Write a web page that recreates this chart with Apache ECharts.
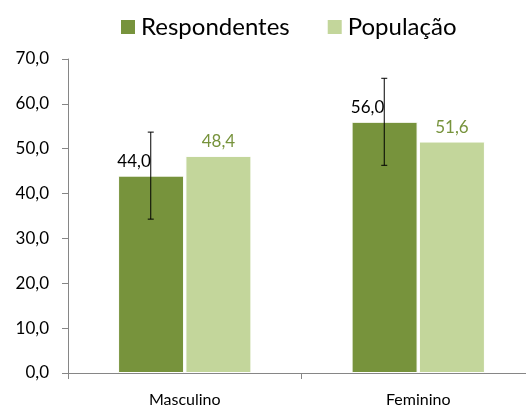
<!DOCTYPE html>
<html>
<head>
<meta charset="utf-8">
<script src="https://cdn.jsdelivr.net/npm/echarts@6/dist/echarts.min.js"></script>
<style>
html,body{margin:0;padding:0;background:#fff;}
#chart{width:526px;height:409px;}
</style>
</head>
<body>
<div id="chart"></div>
<script>
// categorias e valores (%)
var categorias = ['Masculino', 'Feminino'];
var respondentes = [44.0, 56.0];
var populacao = [48.4, 51.6];
var erro = [9.7, 9.7]; // margem de erro dos respondentes

var barW = 66;
var fonte = 'Lato, "Open Sans", sans-serif';

function fmt(v) {
	return v.toFixed(1).replace('.', ',');
}

var chart = echarts.init(document.getElementById('chart'));
var option = {
	animation: false,
	legend: {
		top: 10,
		left: 114,
		itemWidth: 16,
		itemHeight: 16,
		itemGap: 36,
		icon: 'rect',
		textStyle: {fontSize: 24, color: '#000', fontFamily: fonte},
		data: ['Respondentes', 'População']
	},
	grid: {left: 68, right: -9, top: 59, bottom: 36, outerBoundsMode: 'none', containLabel: false},
	xAxis: {
		type: 'category',
		data: categorias,
		axisLine: {lineStyle: {color: '#868686'}},
		axisTick: {show: true, length: 6, lineStyle: {color: '#868686'}},
		axisLabel: {fontSize: 16, color: '#000', margin: 19, fontFamily: fonte}
	},
	yAxis: {
		type: 'value',
		min: 0,
		max: 70,
		interval: 10,
		splitLine: {show: false},
		axisLine: {show: true, lineStyle: {color: '#868686'}},
		axisTick: {show: true, length: 6, lineStyle: {color: '#868686'}},
		axisLabel: {
			fontSize: 17, color: '#000', margin: 19, fontFamily: fonte,
			formatter: function(v) { return fmt(v); }
		}
	},
	series: [{
		name: 'Respondentes',
		type: 'bar',
		barWidth: barW,
		barGap: '2%',
		data: respondentes,
		itemStyle: {color: '#77933C', borderColor: '#fff', borderWidth: 1},
		label: {
			show: true, position: 'top', distance: 6, offset: [-17, 0],
			fontSize: 17, color: '#000', fontFamily: fonte,
			formatter: function(p) { return fmt(p.value); }
		},
		z: 2
	}, {
		name: 'População',
		type: 'bar',
		barWidth: barW,
		data: populacao,
		itemStyle: {color: '#C3D69B', borderColor: '#fff', borderWidth: 1},
		label: {
			show: true, position: 'top', distance: 6,
			fontSize: 17, color: '#77933C', fontFamily: fonte,
			formatter: function(p) { return fmt(p.value); }
		},
		z: 2
	}, {
		// barras de erro
		type: 'custom',
		name: 'erro',
		data: respondentes.map(function(v, i) { return [i, v - erro[i], v + erro[i]]; }),
		renderItem: function(params, api) {
			var i = api.value(0);
			var lo = api.coord([i, api.value(1)]);
			var hi = api.coord([i, api.value(2)]);
			var x = lo[0] - barW / 2 - 1;
			var cap = 3;
			var st = {stroke: '#000', lineWidth: 1};
			return {
				type: 'group',
				children: [
					{type: 'line', shape: {x1: x, y1: hi[1], x2: x, y2: lo[1]}, style: st},
					{type: 'line', shape: {x1: x - cap, y1: hi[1], x2: x + cap, y2: hi[1]}, style: st},
					{type: 'line', shape: {x1: x - cap, y1: lo[1], x2: x + cap, y2: lo[1]}, style: st}
				]
			};
		},
		z: 5
	}]
};
chart.setOption(option);
</script>
</body>
</html>
